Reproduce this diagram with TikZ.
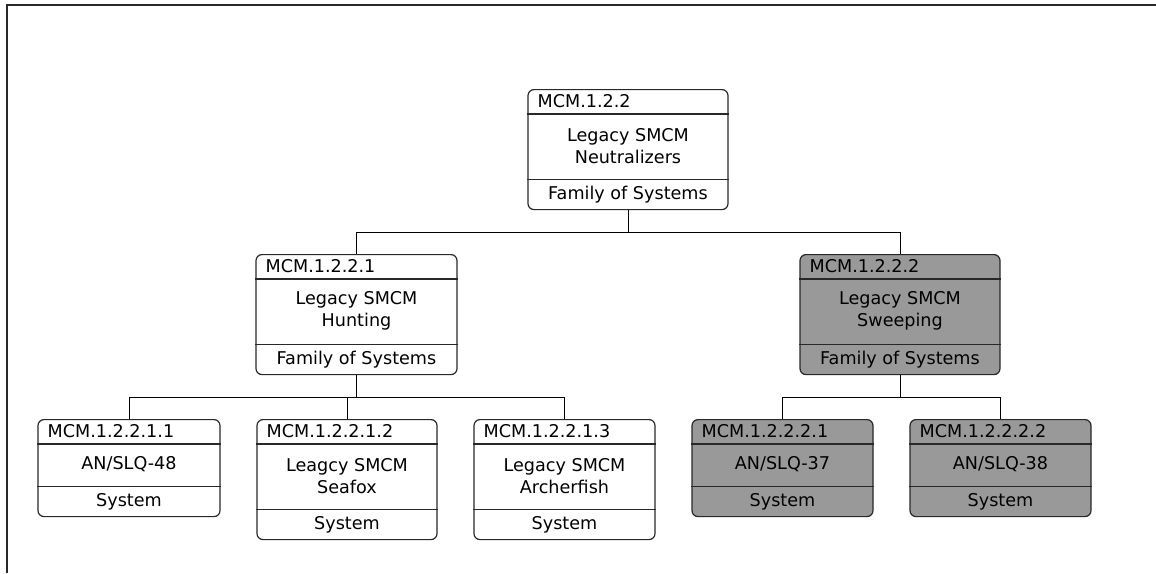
\documentclass[tikz,border=0pt]{standalone}
\usepackage{fontspec}
\setmainfont{DejaVu Sans}
\usetikzlibrary{positioning}
\definecolor{mcmgray}{RGB}{153,153,153}
\definecolor{mcmline}{RGB}{40,40,40}
\tikzset{
    mcmbox/.style={draw=mcmline, line width=1.2pt, rounded corners=6pt, inner sep=0pt},
    legacybox/.style={mcmbox, fill=white},
    sweepbox/.style={mcmbox, fill=mcmgray},
    idtext/.style={inner sep=0pt, anchor=west, font=\fontsize{17.6}{22}\selectfont},
    bodytext/.style={inner sep=0pt, align=center, font=\fontsize{17.6}{22}\selectfont},
    split/.style={draw=mcmline, line width=1.1pt},
    link/.style={draw=black, line width=1pt}
}
% name, style, centre x, top y, width, body height, id, title, kind
\newcommand{\mcmnode}[9]{%
    \node[#2, minimum width=#5pt, minimum height={(56+#6)*1pt}, anchor=north] (#1) at (#3,#4) {};
    \draw[split] ([yshift=-25pt]#1.north west) -- ([yshift=-25pt]#1.north east);
    \draw[split] ([yshift=31pt]#1.south west) -- ([yshift=31pt]#1.south east);
    \node[idtext] (#1-id) at ([xshift=10pt,yshift=-12.5pt]#1.north west) {#7};
    \node[bodytext] (#1-title) at ([yshift={-(25+0.5*#6)*1pt}]#1.north) {#8};
    \node[bodytext] (#1-kind) at ([yshift=15.5pt]#1.south) {#9};
}

\begin{document}
\begin{tikzpicture}[x=1pt, y=-1pt]
    \useasboundingbox (0,0) rectangle (1156,573);
    \draw[mcmline, line width=2pt] (6.5,573) -- (6.5,4.5) -- (1156,4.5);

    % family of systems
    \mcmnode{neut}{legacybox}{628}{89}{200}{64}{MCM.1.2.2}{Legacy SMCM\\Neutralizers}{Family of Systems}
    \mcmnode{hunt}{legacybox}{356.5}{254}{201}{64}{MCM.1.2.2.1}{Legacy SMCM\\Hunting}{Family of Systems}
    \mcmnode{sweep}{sweepbox}{900}{254}{200}{64}{MCM.1.2.2.2}{Legacy SMCM\\Sweeping}{Family of Systems}

    % systems
    \mcmnode{slq48}{legacybox}{129}{419}{182}{41}{MCM.1.2.2.1.1}{AN/SLQ-48}{System}
    \mcmnode{seafox}{legacybox}{347}{419}{180}{64}{MCM.1.2.2.1.2}{Leagcy SMCM\\Seafox}{System}
    \mcmnode{archer}{legacybox}{564.5}{419}{181}{64}{MCM.1.2.2.1.3}{Legacy SMCM\\Archerfish}{System}
    \mcmnode{slq37}{sweepbox}{782.5}{419}{181}{41}{MCM.1.2.2.2.1}{AN/SLQ-37}{System}
    \mcmnode{slq38}{sweepbox}{1000.5}{419}{181}{41}{MCM.1.2.2.2.2}{AN/SLQ-38}{System}

    % connectors
    \coordinate (neutbus) at ([yshift=-22pt]neut.south);
    \coordinate (huntbus) at ([yshift=-22pt]hunt.south);
    \coordinate (sweepbus) at ([yshift=-22pt]sweep.south);
    \draw[link] (neut.south) -- (neutbus) -| (hunt.north);
    \draw[link] (neutbus) -| (sweep.north);
    \draw[link] (hunt.south) -- (huntbus) -| (slq48.north);
    \draw[link] (huntbus) -| (seafox.north);
    \draw[link] (huntbus) -| (archer.north);
    \draw[link] (sweep.south) -- (sweepbus) -| (slq37.north);
    \draw[link] (sweepbus) -| (slq38.north);
\end{tikzpicture}
\end{document}
